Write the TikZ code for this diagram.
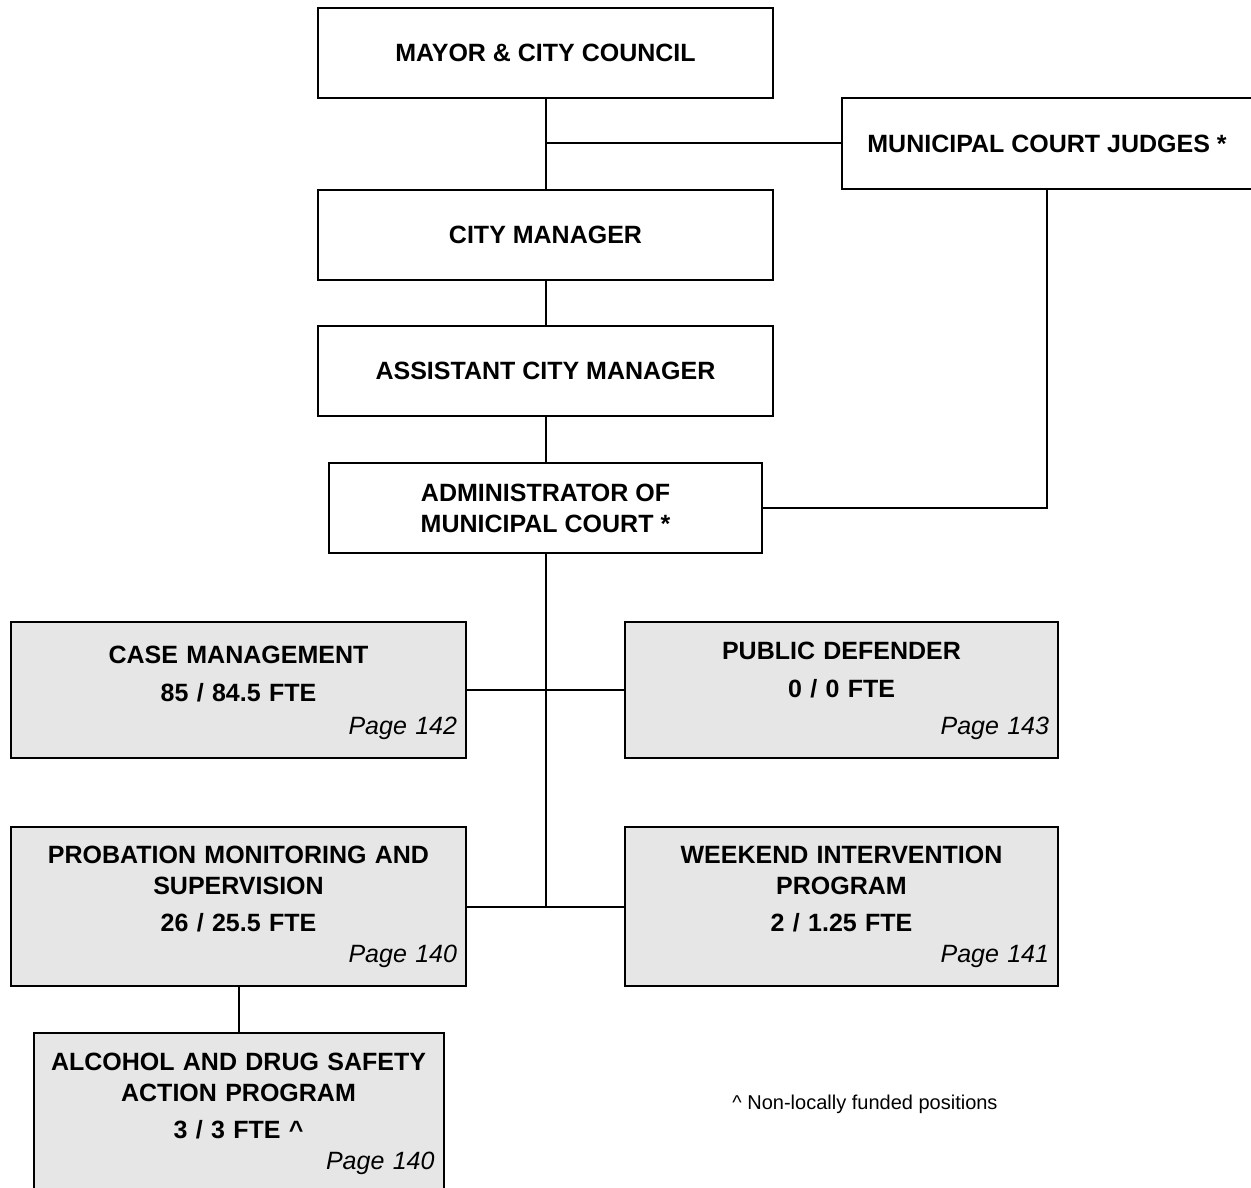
\documentclass[tikz,border=0pt]{standalone}
\usepackage{fontspec}
\setmainfont{Liberation Sans}
\definecolor{boxgray}{RGB}{230,230,230}
\newcommand{\pgtag}[1]{\hspace*{\fill}\mdseries\itshape #1}

\begin{document}
\begin{tikzpicture}[x=0.5pt,y=-0.5pt,node distance=68pt,
    office/.style={draw,fill=white,line width=1pt,minimum height=45pt,align=center,
      font=\fontsize{12.5}{15.5}\selectfont\bfseries},
    unit/.style={draw,fill=boxgray,line width=1pt,inner xsep=4.5pt,text width=#1,
      align=center,font=\fontsize{12.5}{15.5}\selectfont\bfseries},
    link/.style={draw,line width=1pt}]

        \useasboundingbox (0,0) rectangle (1251,1187);
        \clip (0,0) rectangle (1251,1187);

        \node[office,minimum width=227.5pt] (mayor)   at (545.5,53)                   {MAYOR \& CITY COUNCIL};
        \node[office,minimum width=227.5pt] (citymgr) [below of=mayor,node distance=91pt] {CITY MANAGER};
        \node[office,minimum width=227.5pt] (asstmgr) [below of=citymgr]              {ASSISTANT CITY MANAGER};
        \node[office,minimum width=216.5pt] (admin)   [below of=asstmgr,node distance=68.5pt] {ADMINISTRATOR OF\\MUNICIPAL COURT *};
        \node[office,minimum width=205pt,minimum height=45.5pt] (judges) at (1047,143.5) {MUNICIPAL COURT JUDGES *};

        \node[unit=218.5pt,minimum height=68pt,text height=12pt] (casemgmt) at (238.5,690)
              {CASE MANAGEMENT\\[3.5pt]85 / 84.5 FTE\\[1pt]\pgtag{Page 142}};
        \node[unit=207.5pt,minimum height=68pt,text height=10pt] (defender) at (841.5,690)
              {PUBLIC DEFENDER\\[3.5pt]0 / 0 FTE\\[3pt]\pgtag{Page 143}};
        \node[unit=218.5pt,minimum height=79.5pt] (probation) at (238.5,906.5)
              {PROBATION MONITORING AND\\SUPERVISION\\[3pt]26 / 25.5 FTE\\\pgtag{Page 140}};
        \node[unit=207.5pt,minimum height=79.5pt] (weekend)   at (841.5,906.5)
              {WEEKEND INTERVENTION\\PROGRAM\\[3pt]2 / 1.25 FTE\\\pgtag{Page 141}};
        \node[unit=196pt,minimum height=81pt]     (asap)      at (238.5,1114)
              {ALCOHOL AND DRUG SAFETY\\ACTION PROGRAM\\[3pt]3 / 3 FTE \textasciicircum\\\pgtag{Page 140}};

        \node[font=\fontsize{10}{12}\selectfont] (note) at (865,1104) {\textasciicircum{} Non-locally funded positions};

        \coordinate (split) at (mayor |- judges);
        \coordinate (hub)   at (admin |- probation);

        \path[link]
                  (mayor)     edge (citymgr)
                  (split)     edge (judges)
                  (citymgr)   edge (asstmgr)
                  (asstmgr)   edge (admin)
                  (admin)     edge (hub)
                  (casemgmt)  edge (defender)
                  (probation) edge (weekend)
                  (probation) edge (asap);
        \draw[link] (judges) |- (admin);
      \end{tikzpicture}
\end{document}
